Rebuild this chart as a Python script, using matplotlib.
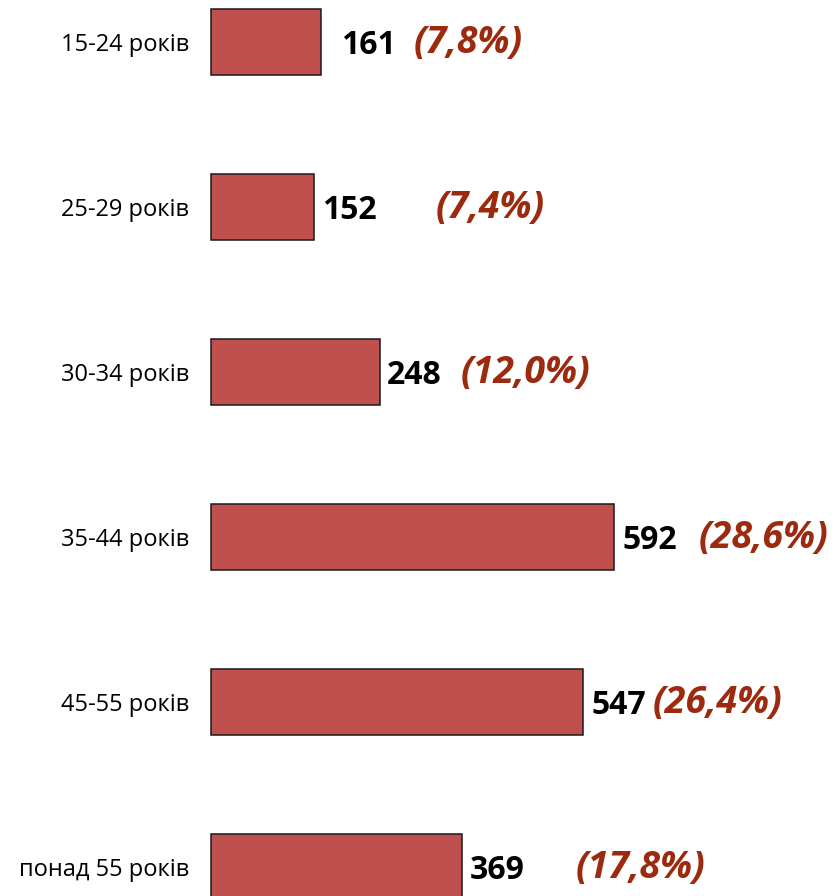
import matplotlib.pyplot as plt
import numpy as np

categories = ["15-24 років", "25-29 років", "30-34 років", "35-44 років", "45-55 років", "понад 55 років"]
values = [161, 152, 248, 592, 547, 369]
shares = ["(7,8%)", "(7,4%)", "(12,0%)", "(28,6%)", "(26,4%)", "(17,8%)"]

# label offsets (pixels from bar end), placed by hand as in the original
val_off = [20, 8, 7, 9, 8, 8]
pct_off = [93, 121, 81, 85, 69, 113]

plt.rcParams['font.family'] = ['Open Sans', 'DejaVu Sans']

fig = plt.figure(figsize=(8.36, 8.96), dpi=100)
ax = fig.add_axes([211/836, 0, 625/836, 1])

y = np.arange(len(categories))
bars = ax.barh(y, values, height=0.4, color="#C0504D", edgecolor="#1a1a1a", linewidth=1.1)
for b in bars:
    b.set_clip_on(False)

ax.set_xlim(0, 625/0.6807)
ax.set_ylim((896-42)/165, -42/165)
ax.set_yticks(y)
ax.set_yticklabels(categories, fontsize=17)
ax.tick_params(axis='y', length=0, pad=16)
ax.set_xticks([])
for s in ax.spines.values():
    s.set_visible(False)

px = 72/100
for i, v in enumerate(values):
    ax.annotate(str(v), (v, i), xytext=(val_off[i]*px, -3*px), textcoords='offset points',
                ha='left', va='center', fontsize=23, fontweight='bold', color='black')
    ax.annotate(shares[i], (v, i), xytext=(pct_off[i]*px, -1*px), textcoords='offset points',
                ha='left', va='center', fontsize=27, fontweight='bold', fontstyle='italic',
                color='#9C2A0E')

fig.savefig("out.png", dpi=100)
